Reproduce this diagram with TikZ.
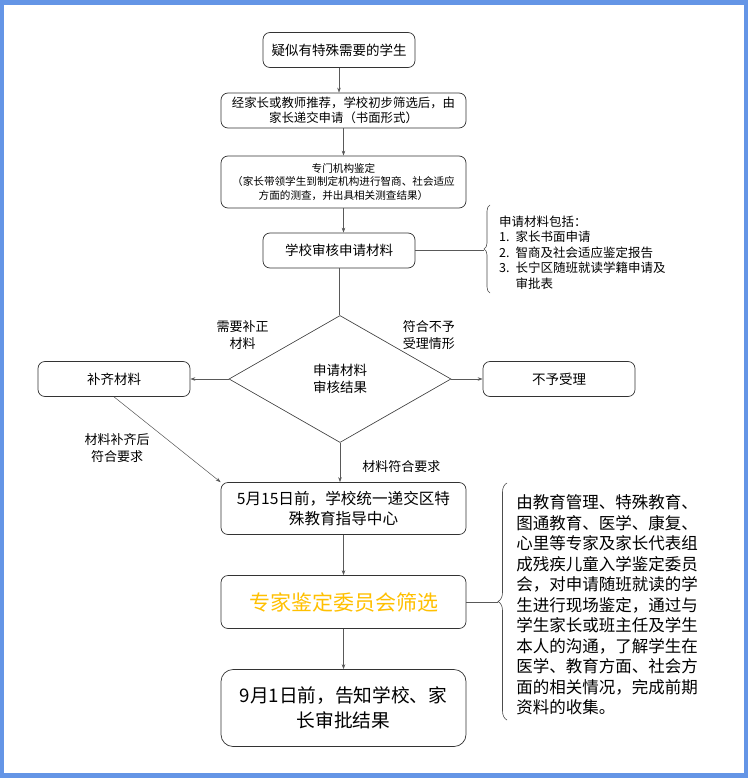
\documentclass[tikz,border=0pt]{standalone}
\usepackage{fontspec}
\setmainfont{Noto Sans CJK SC}
\usepackage{tikz}
\usetikzlibrary{arrows.meta}
\usetikzlibrary{positioning}
\usetikzlibrary{shapes.geometric}
\usetikzlibrary{decorations.pathreplacing}
\definecolor{frameBlue}{RGB}{100,149,230}
\definecolor{titleGold}{RGB}{255,192,0}

\begin{document}
\begin{tikzpicture}[
    x=1pt, y=-1pt,
    node/.style={%
      draw=black!80,
      rectangle,
      rounded corners=7pt,
      line width=0.7pt,
      align=center,
      inner sep=0pt,
    },
    small/.style={node, minimum width=152pt, minimum height=35pt,
      font=\fontsize{13.5}{16}\selectfont},
    wide/.style={node, minimum width=245pt, minimum height=#1},
    choice/.style={%
      draw=black!80,
      diamond,
      line width=0.6pt,
      align=center,
      inner sep=0pt,
      minimum width=222pt,
      minimum height=127pt,
      font=\fontsize{13.5}{17}\selectfont,
    },
    tag/.style={align=center, inner sep=0pt, font=\fontsize{13}{17.5}\selectfont},
    line/.style={draw=black!65, line width=0.5pt, -{Stealth[length=5pt,width=3.5pt]}},
    curly/.style={draw=black!70, line width=0.6pt, decorate,
      decoration={brace, amplitude=#1}},
  ]

    % frame
    \fill [frameBlue] (0,0) rectangle (748,778);
    \fill [white] (4,5) rectangle (744,773);
    \useasboundingbox (0,0) rectangle (748,778);

    \node [small] (A) at (339,50) {疑似有特殊需要的学生};
    \path (A) ++(4.5,60.5) node [wide=35pt, font=\fontsize{12.4}{14.5}\selectfont] (B)
      {经家长或教师推荐，学校初步筛选后，由\\家长递交申请（书面形式）};
    \path (B) ++(0,71.5) node [wide=52pt, font=\fontsize{10.6}{13.5}\selectfont] (C)
      {专门机构鉴定\\（家长带领学生到制定机构进行智商、社会适应\\方面的测查，并出具相关测查结果）};
    \path (C) ++(-4.5,68.5) node [small] (D) {学校审核申请材料};
    \path (D) ++(1,128.5) node [choice] (E) {申请材料\\审核结果};
    \path (E) ++(-226,0) node [small] (F) {补齐材料};
    \path (E) ++(219,0) node [small] (G) {不予受理};
    \path (E) ++(3.5,129.5) node [wide=52pt, font=\fontsize{15.6}{20}\selectfont] (H)
      {5月15日前，学校统一递交区特\\殊教育指导中心};
    \path (H) ++(0,93.5) node [wide=53pt, text=titleGold, font=\fontsize{21}{24}\selectfont] (I)
      {专家鉴定委员会筛选};
    \path (I) ++(0,106) node [wide=77pt, rounded corners=12pt, font=\fontsize{18.7}{25}\selectfont] (J)
      {9月1日前，告知学校、家\\长审批结果};

    % notes
    \node [anchor=west, inner sep=0pt, font=\fontsize{12.5}{15.5}\selectfont] (list) at (499,254)
      {\begin{tabular}{@{}l@{\hspace{6pt}}l@{}}
        \multicolumn{2}{@{}l@{}}{申请材料包括：}\\
        1. & 家长书面申请\\
        2. & 智商及社会适应鉴定报告\\
        3. & 长宁区随班就读学籍申请及\\
           & 审批表
      \end{tabular}};
    \node [align=left, inner sep=0pt, font=\fontsize{16.5}{20.5}\selectfont] (info) at (607,605)
      {由教育管理、特殊教育、\\图通教育、医学、康复、\\心里等专家及家长代表组\\成残疾儿童入学鉴定委员\\会，对申请随班就读的学\\生进行现场鉴定，通过与\\学生家长或班主任及学生\\本人的沟通，了解学生在\\医学、教育方面、社会方\\面的相关情况，完成前期\\资料的收集。};

    \draw [curly=6pt] (490,293) -- (490,205) coordinate [midway, xshift=-6pt] (t1);
    \draw [curly=9pt] (507,720) -- (507,483) coordinate [midway, xshift=-9pt] (t2);

    % connectors
    \draw [line] (A) -- (A |- B.north);
    \draw [line] (B) -- (B |- C.north);
    \draw [line] (C) -- (C |- D.north);
    \draw [draw=black!65, line width=0.5pt] (D.south) -- (D.south |- E.north);
    \draw [draw=black!65, line width=0.5pt] (D.east) -- (t1 |- D.east);
    \draw [line] (E.west) -- (F.east)
      node [tag, pos=0.5, above=29pt, xshift=33pt] {需要补正\\材料};
    \draw [line] (E.east) -- (G.east -| G.west)
      node [tag, pos=0.5, above=29pt, xshift=-38pt] {符合不予\\受理情形};
    \draw [line] (E.south) -- (E.south |- H.north)
      node [tag, pos=0.6, right=22pt] {材料符合要求};
    \draw [line] (F.south) -- (H.north west)
      node [tag, pos=0.6, left=28pt] {材料补齐后\\符合要求};
    \draw [draw=black!65, line width=0.5pt] (I.east) -- (t2 |- I.east);
    \draw [line] (H) -- (H |- I.north);
    \draw [line] (I) -- (I |- J.north);
\end{tikzpicture}
\end{document}
